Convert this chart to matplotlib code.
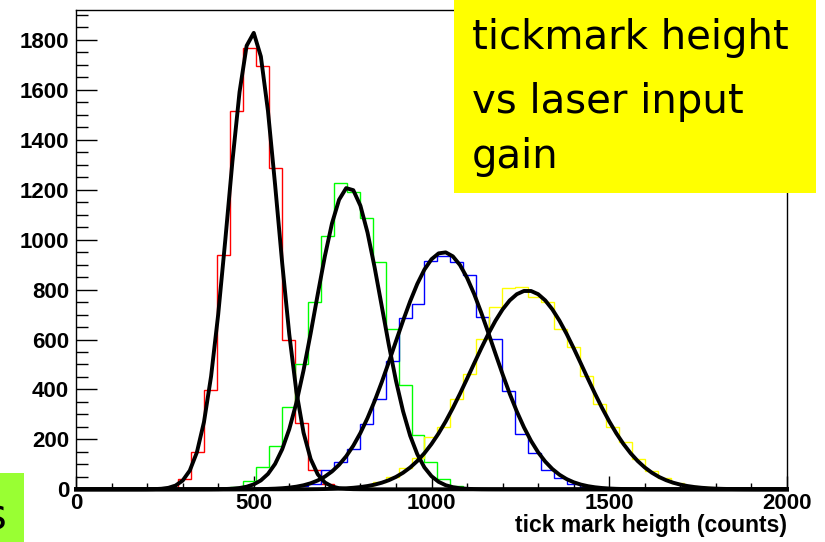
import numpy as np
import matplotlib
matplotlib.use("Agg")
import matplotlib.pyplot as plt
from matplotlib.patches import Rectangle
from matplotlib.ticker import MultipleLocator

# binning shared by all four spectra
bin_width = 36.53
grid_start = 249.7

# histogram contents; each list starts at the given bin index of the grid
red_start = 0
red_counts = [4, 42, 151, 398, 939, 1517, 1769, 1697, 1286, 598, 264, 76, 22, 5]

green_start = 5
green_counts = [8, 34, 91, 175, 331, 502, 752, 1016, 1228, 1190, 1086, 909,
                642, 416, 218, 108, 41, 12, 3]

blue_start = 9
blue_counts = [5, 12, 22, 76, 109, 160, 260, 362, 515, 688, 742, 916, 934,
               912, 857, 690, 602, 394, 223, 146, 77, 44, 21, 8, 3]

yellow_start = 12
yellow_counts = [2, 4, 8, 15, 30, 50, 84, 124, 211, 251, 361, 461, 602, 731,
                 807, 812, 770, 752, 641, 572, 454, 340, 248, 188, 121, 74,
                 44, 26, 15, 8, 4]

# gaussian fit results: amplitude, mean, sigma
fit_amp = [1830, 1210, 950, 796]
fit_mean = [497, 767, 1034, 1270]
fit_sigma = [70, 93, 138, 157]

x_ticks = [0, 500, 1000, 1500, 2000]
y_ticks = [0, 200, 400, 600, 800, 1000, 1200, 1400, 1600, 1800]
x_title = "tick mark heigth (counts)"
note_lines = ["tickmark height", "vs laser input", "gain"]

W, H = 825, 542
fig = plt.figure(figsize=(W / 100, H / 100), dpi=100)


def fig_xy(x, y):
    return x / W, 1 - y / H


ax = fig.add_axes([76 / W, 1 - 489.3 / H, (787 - 76) / W, (489.3 - 10) / H])

hists = [(red_counts, red_start, "#ff0000"),
         (green_counts, green_start, "#00ff00"),
         (blue_counts, blue_start, "#0000ff"),
         (yellow_counts, yellow_start, "#ffff00")]

xs = np.linspace(0, 2000, 101)
for counts, start, color in hists:
    edges = grid_start + bin_width * np.arange(start, start + len(counts) + 1)
    ax.stairs(counts, edges, color=color, lw=1.0, zorder=2)
for a, mu, s in zip(fit_amp, fit_mean, fit_sigma):
    ax.plot(xs, a * np.exp(-0.5 * ((xs - mu) / s) ** 2), color="black",
            lw=2.8, solid_joinstyle="round", clip_on=False, zorder=3)

ax.set_xlim(0, 2000)
ax.set_ylim(0, 1920)
ax.set_xticks(x_ticks)
ax.set_yticks(y_ticks)
ax.xaxis.set_minor_locator(MultipleLocator(100))
ax.yaxis.set_minor_locator(MultipleLocator(50))

ax.tick_params(axis="x", which="major", direction="in", length=9.5, width=1.0,
               pad=3, labelsize=16)
ax.tick_params(axis="x", which="minor", direction="in", length=4.5, width=1.0)
ax.tick_params(axis="y", which="major", direction="in", length=15, width=1.0,
               pad=5, labelsize=16)
ax.tick_params(axis="y", which="minor", direction="in", length=8.5, width=1.0)
for lab in ax.get_xticklabels() + ax.get_yticklabels():
    lab.set_fontfamily("Liberation Sans")
    lab.set_fontweight("bold")

for sp in ax.spines.values():
    sp.set_linewidth(1.0)

ax.text(1.0, -0.076, x_title, transform=ax.transAxes, ha="right", va="center",
        fontsize=16.5, fontweight="bold", family="Liberation Sans")

# yellow note box in the top right corner
x0, y0 = fig_xy(454, 193)
x1, y1 = fig_xy(816, 0)
fig.add_artist(Rectangle((x0, y0), x1 - x0, y1 - y0, transform=fig.transFigure,
                         facecolor="#ffff00", edgecolor="none", zorder=5))
for line, base in zip(note_lines, [49, 113, 168]):
    fig.text(*fig_xy(472, base), line, ha="left", va="baseline", fontsize=29,
             family="DejaVu Sans", zorder=6)

# green tab at the lower left edge
gx0, gy0 = fig_xy(0, 542)
gx1, gy1 = fig_xy(24, 473)
fig.add_artist(Rectangle((gx0, gy0), gx1 - gx0, gy1 - gy0, transform=fig.transFigure,
                         facecolor="#99ff33", edgecolor="none", zorder=5))
fig.text(*fig_xy(6, 529), "s", ha="right", va="baseline", fontsize=30,
         family="DejaVu Sans", zorder=6)

fig.savefig("out.png", dpi=100)
